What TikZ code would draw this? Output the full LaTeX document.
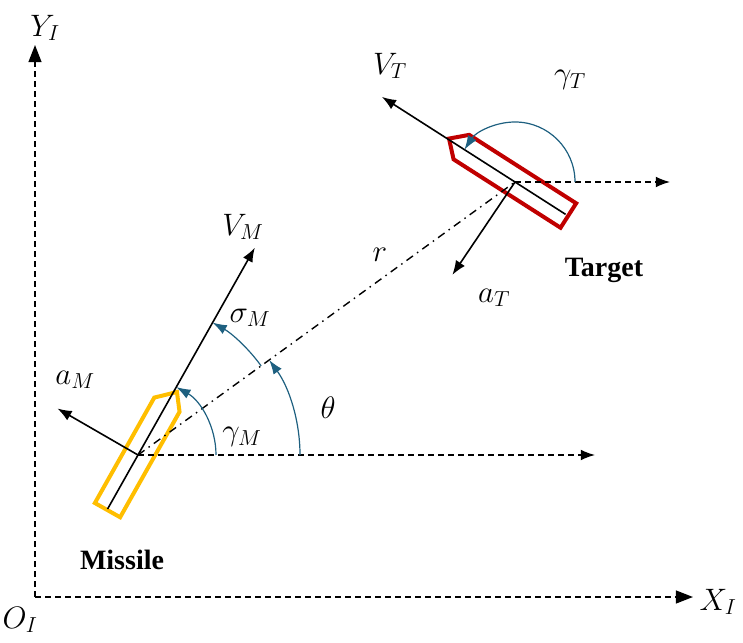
\documentclass[tikz,border=0pt]{standalone}
\usepackage{fix-cm}
\usepackage{fontspec}
\newfontfamily\labelfont{Liberation Serif}
\usetikzlibrary{arrows.meta}
\definecolor{arcblue}{RGB}{30,96,128}
\definecolor{missileyellow}{RGB}{255,190,0}
\definecolor{targetred}{RGB}{192,0,0}

\begin{document}
\begin{tikzpicture}[
        x=1pt, y=1pt,
        every node/.style={font=\fontsize{31}{34}\selectfont},
        arrow/.style={-{Latex[length=5mm, width=3.8mm]}, line width=1.6pt},
        axis/.style={-{Triangle[length=6mm, width=4.5mm]}, line width=1.8pt, dash pattern=on 6pt off 4pt},
        ref/.style={-{Latex[length=5mm, width=3.8mm]}, line width=1.4pt, dash pattern=on 6pt off 4pt},
        los/.style={line width=1.4pt, dash pattern=on 8pt off 5pt on 1.5pt off 5pt},
        angle/.style={-{Latex[length=5mm, width=3.5mm]}, arcblue, line width=1.2pt},
        hull/.style={line width=4pt, line join=miter},
        bold/.style={font=\labelfont\bfseries\fontsize{28}{30}\selectfont}
        ]
        \useasboundingbox (0,0) rectangle (743,642);

        % Frame
        \coordinate (O) at (35,45);
        \coordinate (Ytop) at (35,597);
        \coordinate (Xend) at (693,45);
        \draw [axis] (O) -- (Ytop);
        \draw [axis] (O) -- (Xend);

        % Points
        \coordinate (M) at (138,187);
        \coordinate (T) at (515,460);
        \coordinate (Mref) at (595,187);
        \coordinate (Tref) at (670,460);
        \coordinate (VM) at ([shift={(60.6:238)}]M);
        \coordinate (VMback) at ([shift={(60.6:-62)}]M);
        \coordinate (AM) at ([shift={(150:93)}]M);
        \coordinate (VT) at ([shift={(147.4:158)}]T);
        \coordinate (VTback) at ([shift={(147.4:-60)}]T);
        \coordinate (AT) at ([shift={(236:112)}]T);

        % Hulls
        \draw [hull, missileyellow, rotate around={60.6:(M)}, shift={(M)}]
            (-63,14) -- (58,14) -- (74,-3) -- (58,-15) -- (-63,-15) -- cycle;
        \draw [hull, targetred, rotate around={147.4:(T)}, shift={(T)}]
            (-63,14) -- (64,14) -- (79,-1) -- (64,-15) -- (-63,-15) -- cycle;

        % Reference lines
        \draw [ref] (M) -- (Mref);
        \draw [ref] (T) -- (Tref);
        \draw [los] (M) -- (T);

        % Vectors
        \draw [arrow] (VMback) -- (VM);
        \draw [arrow] (M) -- (AM);
        \draw [arrow] (VTback) -- (VT);
        \draw [arrow] (T) -- (AT);

        % Angles
        \draw [angle] ([shift={(0:78)}]M) arc[start angle=0, end angle=60.6, radius=78];
        \draw [angle] ([shift={(0:162)}]M) arc[start angle=0, end angle=35.9, radius=162];
        \draw [angle] ([shift={(35.9:152)}]M) arc[start angle=35.9, end angle=60.6, radius=152];
        \draw [angle] ([shift={(0:60)}]T) arc[start angle=0, end angle=147.4, radius=60];

        % Labels
        \node (Ylabel) at (45,614) {$Y_I$};
        \node (Xlabel) at (718,40) {$X_I$};
        \node (Olabel) at (20,22) {$O_I$};
        \node (VMlabel) at (243,415) {$V_M$};
        \node (VTlabel) at (390,576) {$V_T$};
        \node (gTlabel) at (570,562) {$\gamma_T$};
        \node (rlabel) at (380,387) {$r$};
        \node (aTlabel) at (494,344) {$a_T$};
        \node (sMlabel) at (250,324) {$\sigma_M$};
        \node (aMlabel) at (75,262) {$a_M$};
        \node (thlabel) at (328,234) {$\theta$};
        \node (gMlabel) at (242,205) {$\gamma_M$};
        \node [bold] (Target) at (604,372) {Target};
        \node [bold] (Missile) at (122,82) {Missile};

    \end{tikzpicture}
\end{document}
